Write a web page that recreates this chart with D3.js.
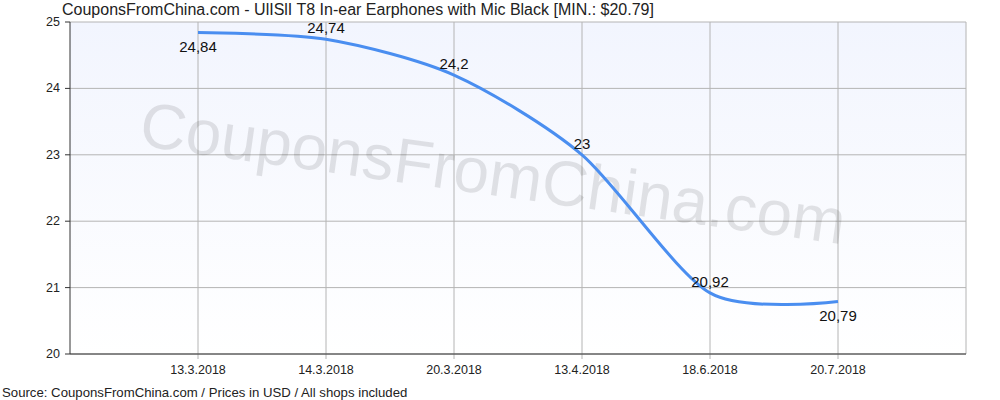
<!doctype html>
<html>
<head>
<meta charset="UTF-8" />
<style>
  body { margin: 0; background: #fff; font-family: "Liberation Sans", Arial, sans-serif; }
</style>
</head>
<body>
<svg id="chart" width="1000" height="400"></svg>
<script src="https://cdn.jsdelivr.net/npm/d3@7"></script>
<script>
const dates = ["13.3.2018", "14.3.2018", "20.3.2018", "13.4.2018", "18.6.2018", "20.7.2018"];
const prices = [24.84, 24.74, 24.2, 23, 20.92, 20.79];
const labels = ["24,84", "24,74", "24,2", "23", "20,92", "20,79"];
const labelBelow = [true, false, false, false, false, true];
const yTicks = [20, 21, 22, 23, 24, 25];

const svg = d3.select("#chart");
const mLeft = 70, mRight = 966, mTop = 22, mBottom = 354;

const x = d3.scalePoint().domain(dates).range([mLeft, mRight]).padding(1);
const y = d3.scaleLinear().domain([20, 25]).range([mBottom, mTop]);

// background
const grad = svg.append("defs").append("linearGradient")
  .attr("id", "bg").attr("x1", 0).attr("y1", 0).attr("x2", 0).attr("y2", 1);
grad.append("stop").attr("offset", "0%").attr("stop-color", "#f2f5fe");
grad.append("stop").attr("offset", "100%").attr("stop-color", "#ffffff");
svg.append("rect").attr("x", mLeft).attr("y", mTop)
  .attr("width", mRight - mLeft).attr("height", mBottom - mTop).attr("fill", "url(#bg)");

// grid
svg.append("g").selectAll("line").data(yTicks).join("line")
  .attr("x1", mLeft).attr("x2", mRight)
  .attr("y1", d => y(d)).attr("y2", d => y(d))
  .attr("stroke", "#b4b4b4");
svg.append("g").selectAll("line").data(dates).join("line")
  .attr("x1", d => x(d)).attr("x2", d => x(d))
  .attr("y1", mTop).attr("y2", mBottom + 5)
  .attr("stroke", "#b4b4b4");
svg.append("line").attr("x1", mRight).attr("x2", mRight).attr("y1", mTop).attr("y2", mBottom).attr("stroke", "#b4b4b4");

// axes
svg.append("line").attr("x1", mLeft).attr("x2", mLeft).attr("y1", mTop).attr("y2", mBottom).attr("stroke", "#333");
svg.append("line").attr("x1", mLeft).attr("x2", mRight).attr("y1", mBottom).attr("y2", mBottom).attr("stroke", "#333");
svg.append("g").selectAll("line").data(yTicks).join("line")
  .attr("x1", mLeft - 5).attr("x2", mLeft).attr("y1", d => y(d)).attr("y2", d => y(d)).attr("stroke", "#333");
svg.append("g").selectAll("text").data(yTicks).join("text")
  .attr("x", mLeft - 10).attr("y", d => y(d) + 4).attr("text-anchor", "end")
  .attr("font-size", 12.5).attr("fill", "#222").text(d => d);
svg.append("g").selectAll("text").data(dates).join("text")
  .attr("x", d => x(d)).attr("y", mBottom + 20).attr("text-anchor", "middle")
  .attr("font-size", 12.5).attr("fill", "#222").text(d => d);

// watermark
svg.append("text").attr("x", 490).attr("y", 195)
  .attr("text-anchor", "middle").attr("font-size", 64)
  .attr("fill", "#000").attr("fill-opacity", 0.1)
  .attr("transform", "rotate(8,490,195)")
  .text("CouponsFromChina.com");

// line
const line = d3.line().x((d, i) => x(dates[i])).y(d => y(d)).curve(d3.curveCardinal.tension(0.2));
svg.append("path").datum(prices).attr("d", line)
  .attr("fill", "none").attr("stroke", "#4a8ef0").attr("stroke-width", 3);

// labels
svg.append("g").selectAll("text").data(prices).join("text")
  .attr("x", (d, i) => x(dates[i])).attr("y", (d, i) => y(d) + (labelBelow[i] ? 19 : -6))
  .attr("text-anchor", "middle").attr("font-size", 15).attr("fill", "#111")
  .text((d, i) => labels[i]);

// title and source
svg.append("text").attr("x", 62).attr("y", 15).attr("font-size", 16).attr("fill", "#222")
  .text("CouponsFromChina.com - UlISlI T8 In-ear Earphones with Mic Black [MIN.: $20.79]");
svg.append("text").attr("x", 2).attr("y", 397).attr("font-size", 13.2).attr("fill", "#222")
  .text("Source: CouponsFromChina.com / Prices in USD / All shops included");
</script>
</body>
</html>
